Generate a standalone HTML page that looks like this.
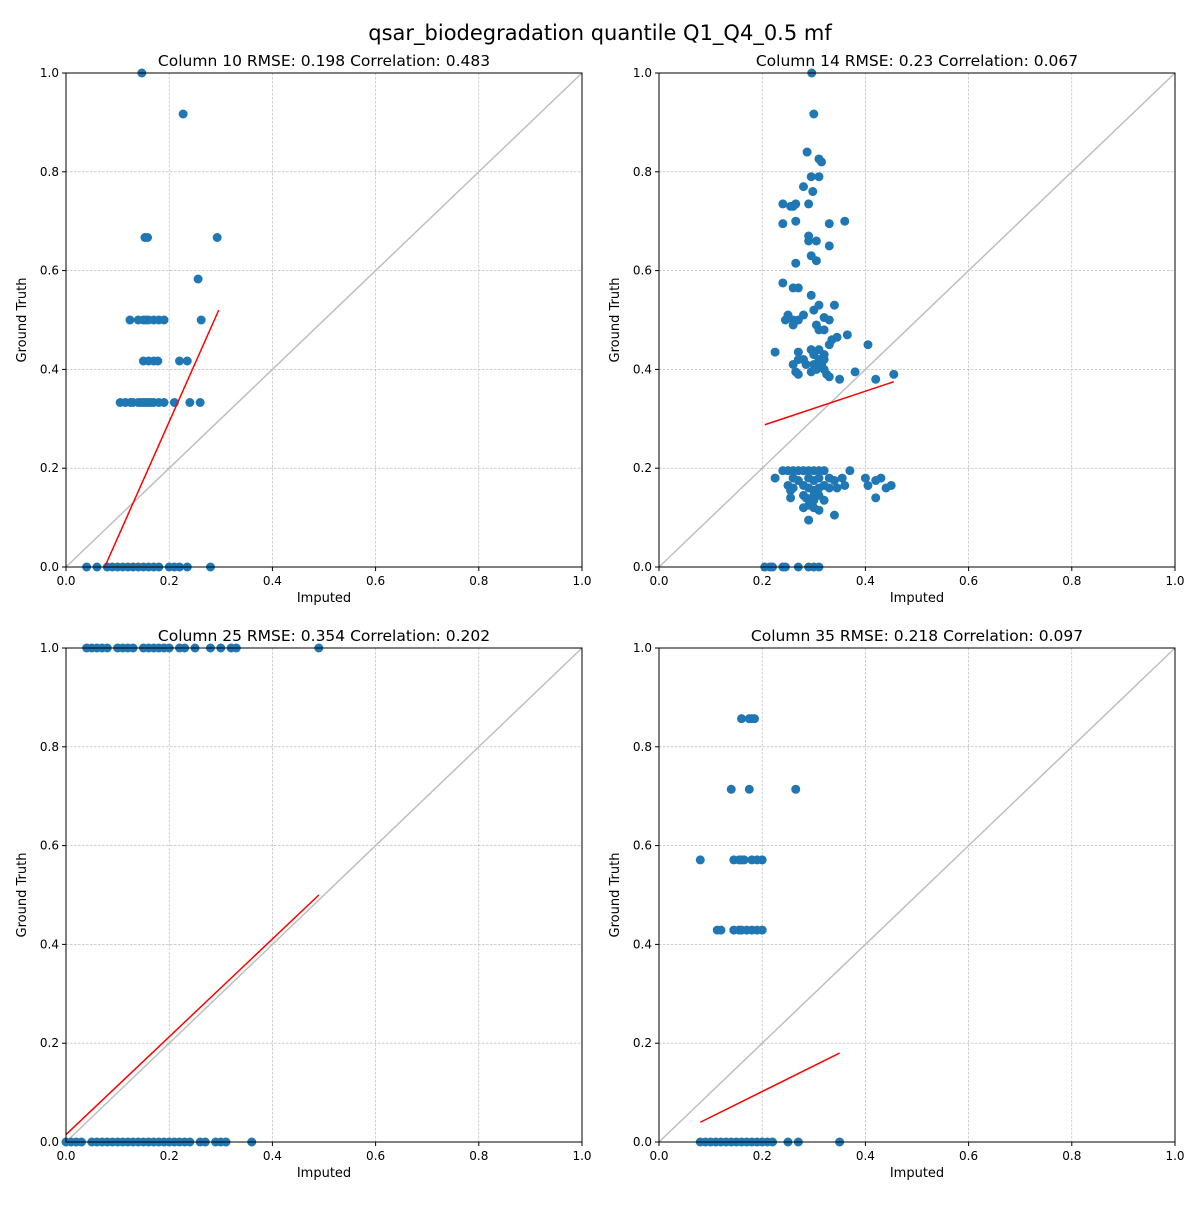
<!DOCTYPE html>
<html><head><meta charset="utf-8"><style>
body{margin:0;background:#fff;font-family:"Liberation Sans","DejaVu Sans",sans-serif}
svg text{font-family:"DejaVu Sans","Liberation Sans",sans-serif}
</style></head><body>
<svg id="fig" width="1200" height="1200" viewBox="0 0 1200 1200" xmlns="http://www.w3.org/2000/svg">
<rect width="1200" height="1200" fill="#fff"/>
<text x="600" y="40" text-anchor="middle" font-size="21">qsar_biodegradation quantile Q1_Q4_0.5 mf</text>
</svg>
<script>
const ticks=[0,0.2,0.4,0.6,0.8,1.0];
const tickLabels=["0.0","0.2","0.4","0.6","0.8","1.0"];
const titles=["Column 10 RMSE: 0.198 Correlation: 0.483","Column 14 RMSE: 0.23 Correlation: 0.067","Column 25 RMSE: 0.354 Correlation: 0.202","Column 35 RMSE: 0.218 Correlation: 0.097"];
const p1x=[0.147,0.227,0.153,0.158,0.293,0.256,0.262,0.124,0.14,0.15,0.155,0.16,0.17,0.18,0.19,0.15,0.16,0.17,0.178,0.22,0.235,0.105,0.115,0.125,0.13,0.14,0.145,0.15,0.155,0.16,0.165,0.17,0.18,0.19,0.21,0.24,0.26,0.04,0.06,0.08,0.09,0.1,0.11,0.12,0.13,0.14,0.15,0.16,0.17,0.18,0.2,0.21,0.22,0.235,0.28];
const p1y=[1.0,0.917,0.667,0.667,0.667,0.583,0.5,0.5,0.5,0.5,0.5,0.5,0.5,0.5,0.5,0.417,0.417,0.417,0.417,0.417,0.417,0.333,0.333,0.333,0.333,0.333,0.333,0.333,0.333,0.333,0.333,0.333,0.333,0.333,0.333,0.333,0.333,0,0,0,0,0,0,0,0,0,0,0,0,0,0,0,0,0,0];
const p2x=[0.296,0.3,0.287,0.31,0.315,0.295,0.31,0.28,0.298,0.24,0.265,0.29,0.255,0.26,0.265,0.36,0.24,0.33,0.29,0.29,0.305,0.33,0.295,0.305,0.265,0.24,0.26,0.27,0.295,0.31,0.34,0.3,0.25,0.28,0.32,0.26,0.27,0.33,0.245,0.26,0.305,0.31,0.32,0.365,0.345,0.335,0.33,0.405,0.295,0.31,0.225,0.27,0.3,0.32,0.28,0.31,0.32,0.27,0.26,0.285,0.3,0.315,0.305,0.32,0.265,0.295,0.38,0.27,0.325,0.455,0.33,0.35,0.42,
0.24,0.25,0.26,0.27,0.28,0.29,0.3,0.31,0.32,0.37,0.225,0.26,0.29,0.31,0.33,0.355,0.4,0.43,0.27,0.3,0.34,0.42,0.25,0.28,0.32,0.36,0.405,0.45,0.26,0.29,0.31,0.33,0.345,0.44,0.255,0.3,0.28,0.3,0.31,0.255,0.285,0.42,0.3,0.32,0.29,0.28,0.3,0.31,0.34,0.29,
0.205,0.215,0.22,0.24,0.245,0.27,0.29,0.3,0.31];
const p2y=[1.0,0.917,0.84,0.826,0.82,0.79,0.79,0.77,0.76,0.735,0.735,0.735,0.73,0.73,0.7,0.7,0.695,0.695,0.67,0.66,0.66,0.65,0.63,0.62,0.615,0.575,0.565,0.565,0.55,0.53,0.53,0.52,0.51,0.51,0.505,0.5,0.5,0.5,0.5,0.49,0.49,0.48,0.48,0.47,0.465,0.46,0.45,0.45,0.44,0.44,0.435,0.435,0.43,0.43,0.42,0.42,0.42,0.42,0.41,0.41,0.41,0.41,0.4,0.4,0.395,0.395,0.395,0.39,0.39,0.39,0.385,0.38,0.38,
0.195,0.195,0.195,0.195,0.195,0.195,0.195,0.195,0.195,0.195,0.18,0.18,0.18,0.18,0.18,0.18,0.18,0.18,0.175,0.175,0.175,0.175,0.165,0.165,0.165,0.165,0.165,0.165,0.16,0.16,0.16,0.16,0.16,0.16,0.155,0.155,0.145,0.145,0.145,0.14,0.14,0.14,0.135,0.135,0.125,0.12,0.12,0.115,0.105,0.095,
0,0,0,0,0,0,0,0,0];
const p3x=[0.04,0.05,0.06,0.07,0.08,0.1,0.11,0.12,0.13,0.15,0.16,0.17,0.18,0.19,0.2,0.22,0.23,0.25,0.28,0.3,0.32,0.33,0.49,
0,0.01,0.02,0.03,0.05,0.06,0.07,0.08,0.09,0.1,0.11,0.12,0.13,0.14,0.15,0.16,0.17,0.18,0.19,0.2,0.21,0.22,0.23,0.24,0.26,0.27,0.29,0.3,0.31,0.36];
const p3y=[1,1,1,1,1,1,1,1,1,1,1,1,1,1,1,1,1,1,1,1,1,1,1,0,0,0,0,0,0,0,0,0,0,0,0,0,0,0,0,0,0,0,0,0,0,0,0,0,0,0,0,0,0];
const p4x=[0.08,0.113,0.12,0.14,0.145,0.155,0.16,0.165,0.18,0.19,0.2,0.145,0.155,0.16,0.17,0.18,0.19,0.2,0.16,0.175,0.18,0.185,0.175,0.265,0.08,0.09,0.1,0.11,0.12,0.13,0.14,0.15,0.16,0.17,0.18,0.19,0.2,0.21,0.22,0.25,0.27,0.35];
const p4y=[0.571,0.429,0.429,0.714,0.571,0.571,0.571,0.571,0.571,0.571,0.571,0.429,0.429,0.429,0.429,0.429,0.429,0.429,0.857,0.857,0.857,0.857,0.714,0.714,0,0,0,0,0,0,0,0,0,0,0,0,0,0,0,0,0,0];
const fitX=[[0.075,0.296],[0.205,0.455],[0,0.49],[0.08,0.35]];
const fitY=[[0,0.52],[0.288,0.375],[0.015,0.5],[0.04,0.18]];
const XS=[p1x,p2x,p3x,p4x], YS=[p1y,p2y,p3y,p4y];
const origins=[[66,73],[659,73],[66,648],[659,648]];
const W=516,H=494;
const NS="http://www.w3.org/2000/svg";
const svg=document.getElementById('fig');
function mk(tag,at,parent){const e=document.createElementNS(NS,tag);for(const k in at)e.setAttribute(k,at[k]);parent.appendChild(e);return e;}
for(let p=0;p<4;p++){
  const [ox,oy]=origins[p];
  const sx=v=>ox+v*W, sy=v=>oy+H-v*H;
  const g=mk('g',{},svg);
  
  
  ticks.forEach((t,i)=>{
    const gx=mk('line',{x1:sx(t),x2:sx(t),y1:oy,y2:oy+H,stroke:'#b0b0b0','stroke-width':0.6,'stroke-dasharray':'2.5,1.5'},g);
    
    const gy=mk('line',{x1:ox,x2:ox+W,y1:sy(t),y2:sy(t),stroke:'#b0b0b0','stroke-width':0.6,'stroke-dasharray':'2.5,1.5'},g);
    
    mk('line',{x1:sx(t),x2:sx(t),y1:oy+H,y2:oy+H+4,stroke:'#000'},g);
    mk('line',{x1:ox-4,x2:ox,y1:sy(t),y2:sy(t),stroke:'#000'},g);
    const xl=mk('text',{x:sx(t),y:oy+H+18,'text-anchor':'middle','font-size':12},g);xl.textContent=tickLabels[i];
    
    const yl=mk('text',{x:ox-7,y:sy(t)+4,'text-anchor':'end','font-size':12},g);yl.textContent=tickLabels[i];
    
  });
  const d=mk('line',{x1:sx(0),y1:sy(0),x2:sx(1),y2:sy(1),stroke:'#bfbfbf','stroke-width':1.5},g);
  
  XS[p].forEach((x,i)=>{
    const c=mk('circle',{cx:sx(x),cy:sy(YS[p][i]),r:4.5,fill:'#1f77b4'},g);
    
  });
  const f=mk('line',{x1:sx(fitX[p][0]),y1:sy(fitY[p][0]),x2:sx(fitX[p][1]),y2:sy(fitY[p][1]),stroke:'#ff0000','stroke-width':1.5},g);
  
  const fr=mk('rect',{x:ox,y:oy,width:W,height:H,fill:'none',stroke:'#000','stroke-width':1},g);
  
  const tt=mk('text',{x:ox+W/2,y:oy-7,'text-anchor':'middle','font-size':15.5},g);tt.textContent=titles[p];
  
  const xa=mk('text',{x:ox+W/2,y:oy+H+35,'text-anchor':'middle','font-size':13},g);xa.textContent='Imputed';
  
  const ya=mk('text',{x:ox-40,y:oy+H/2,'text-anchor':'middle','font-size':13,transform:`rotate(-90 ${ox-40} ${oy+H/2})`},g);ya.textContent='Ground  Truth';
  
}
</script>
</body></html>
